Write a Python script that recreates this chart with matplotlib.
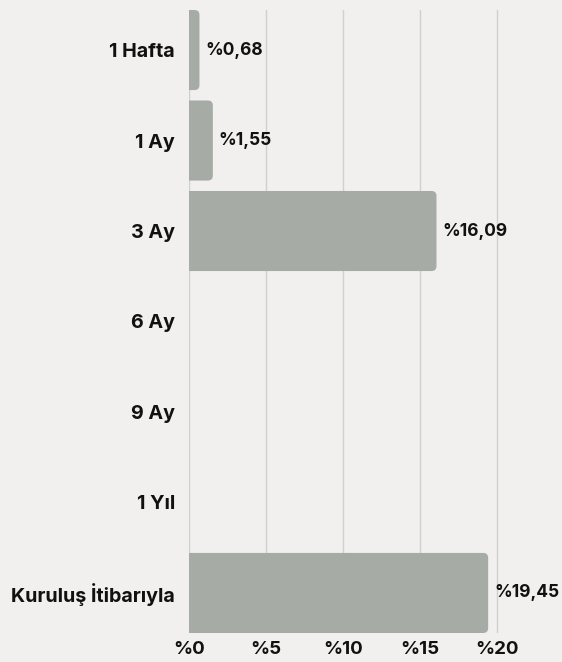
import matplotlib
matplotlib.use("Agg")
import matplotlib.pyplot as plt
from matplotlib.patches import FancyBboxPatch

categories = ["1 Hafta", "1 Ay", "3 Ay", "6 Ay", "9 Ay", "1 Yıl", "Kuruluş İtibarıyla"]
values = [0.68, 1.55, 16.09, None, None, None, 19.45]
value_labels = ["%0,68", "%1,55", "%16,09", "", "", "", "%19,45"]
xticks = [0, 5, 10, 15, 20]
xtick_labels = ["%0", "%5", "%10", "%15", "%20"]

BG = "#f1f0ee"
BAR = "#a7aba6"
GRID = "#d0d0ce"

plt.rcParams['font.family'] = ['Inter', 'DejaVu Sans']

fig = plt.figure(figsize=(5.62, 6.62), dpi=100, facecolor=BG)
W, H = 562, 662
left, right, top, bottom = 189, 512, 10, 633
ax = fig.add_axes([left / W, 1 - bottom / H, (right - left) / W, (bottom - top) / H])
ax.set_facecolor(BG)

h = 0.885
xmax = 21
ax.set_xlim(0, xmax)
ax.set_ylim(len(categories) - 1 + h / 2, -h / 2)

px_per_x = (right - left) / xmax
px_per_y = (bottom - top) / (len(categories) - 1 + h)
r_px = 5
rs = r_px / px_per_x
aspect = px_per_x / px_per_y

for i, v in enumerate(values):
    if v is None:
        continue
    patch = FancyBboxPatch((-rs * 2, i - h / 2), v + rs * 2, h,
                           boxstyle=f"round,pad=0,rounding_size={rs}",
                           mutation_aspect=aspect,
                           facecolor=BAR, edgecolor="none", zorder=3, clip_on=True)
    ax.add_patch(patch)
    ax.text(v + 6 / px_per_x, i, value_labels[i], va="center", ha="left",
            fontsize=12.5, fontweight="bold", color="#111111", zorder=4, clip_on=False)

for x in xticks:
    ax.axvline(x, color=GRID, lw=1, zorder=1)

ax.set_yticks(range(len(categories)))
ax.set_yticklabels(categories, fontsize=14.2, fontweight="bold", color="#111111")
ax.set_xticks(xticks)
ax.set_xticklabels(xtick_labels, fontsize=13.5, fontweight="bold", color="#111111")
ax.tick_params(axis="both", length=0)
ax.tick_params(axis="y", pad=10)
ax.tick_params(axis="x", pad=6)
for s in ax.spines.values():
    s.set_visible(False)

fig.savefig("out.png", dpi=100, facecolor=BG)
